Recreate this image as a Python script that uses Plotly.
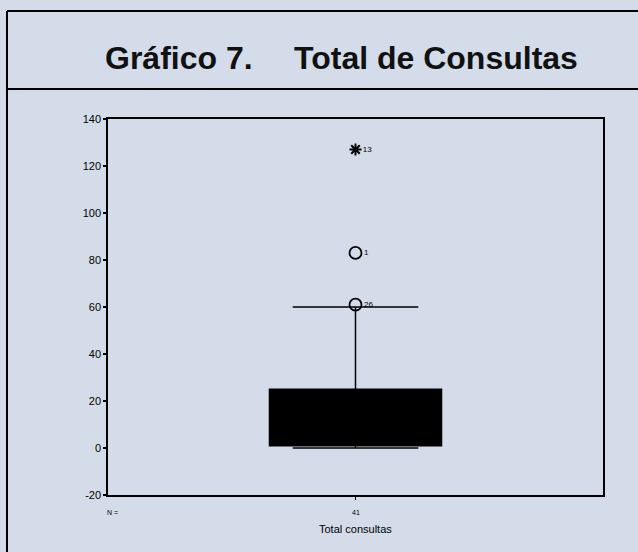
import plotly.graph_objects as go

# Data
category = ["Total consultas"]
n_cases = [41]
q1 = [1]
median = [8]
q3 = [25]
lower_fence = [0]
upper_fence = [60]
outlier_values = [61, 83]
outlier_labels = ["26", "1"]
extreme_values = [127]
extreme_labels = ["13"]
y_ticks = [-20, 0, 20, 40, 60, 80, 100, 120, 140]
y_tick_text = ["-20", "0", "20", "40", "60", "80", "100", "120", "140"]

W, H = 638, 552
L, R, T, B = 108, 35, 119, 57
pw, ph = W - L - R, H - T - B

def px(x):
    return (x - L) / pw

def py(y):
    return (H - B - y) / ph

fig = go.Figure()
fig.add_trace(go.Box(
    x=[0], q1=q1, median=median, q3=q3,
    lowerfence=lower_fence, upperfence=upper_fence,
    width=0.695, whiskerwidth=0.73,
    fillcolor="black", line=dict(color="black", width=1.5),
    boxpoints=False, showlegend=False, hoverinfo="skip",
))
fig.add_trace(go.Scatter(
    x=[0] * len(outlier_values), y=outlier_values, mode="markers+text",
    marker=dict(symbol="circle-open", size=12, color="black", line=dict(width=1.8)),
    text=outlier_labels, textposition="middle right",
    textfont=dict(size=8, color="black", family="Liberation Sans"),
    showlegend=False,
))
fig.add_trace(go.Scatter(
    x=[0] * len(extreme_values), y=extreme_values, mode="markers+text",
    marker=dict(symbol="asterisk-open", size=10, color="black", line=dict(width=2, color="black")),
    text=extreme_labels, textposition="middle right",
    textfont=dict(size=8, color="black", family="Liberation Sans"),
    showlegend=False,
))

shapes = [
    dict(type="line", xref="paper", yref="paper", x0=px(7), x1=px(7), y0=py(11), y1=py(560),
         line=dict(color="black", width=2)),
    dict(type="line", xref="paper", yref="paper", x0=px(7), x1=px(645), y0=py(11), y1=py(11),
         line=dict(color="black", width=2)),
    dict(type="line", xref="paper", yref="paper", x0=px(7), x1=px(645), y0=py(89), y1=py(89),
         line=dict(color="black", width=2)),
]

title_font = dict(size=32, family="Liberation Sans", color="#111")
annotations = [
    dict(text="<b>Gráfico 7.</b>", xref="paper", yref="paper",
         x=px(103), y=py(58), showarrow=False, xanchor="left", yanchor="middle",
         font=title_font),
    dict(text="<b>Total de Consultas</b>", xref="paper", yref="paper",
         x=px(292), y=py(58), showarrow=False, xanchor="left", yanchor="middle",
         font=title_font),
    dict(text="N =", xref="paper", yref="paper", x=px(112), y=py(512), showarrow=False,
         xanchor="center", yanchor="middle", font=dict(size=7, family="Liberation Sans", color="black")),
    dict(text=str(n_cases[0]), xref="x", yref="paper", x=0, y=py(512), showarrow=False,
         xanchor="center", yanchor="middle", font=dict(size=7, family="Liberation Sans", color="black")),
    dict(text=category[0], xref="x", yref="paper", x=0, y=py(529), showarrow=False,
         xanchor="center", yanchor="middle", font=dict(size=11, family="Liberation Sans", color="black")),
]

fig.update_layout(
    width=W, height=H,
    margin=dict(l=L, r=R, t=T, b=B, autoexpand=False),
    paper_bgcolor="#d3dce8", plot_bgcolor="#d3dce8",
    shapes=shapes, annotations=annotations,
    xaxis=dict(range=[-1, 1], showticklabels=False, showgrid=False, zeroline=False,
               showline=True, linecolor="black", linewidth=1.5, mirror=True,
               tickvals=[0], ticks="outside", ticklen=3, tickcolor="black"),
    yaxis=dict(range=[-20, 140], tickvals=y_ticks, ticktext=y_tick_text,
               showgrid=False, zeroline=False,
               showline=True, linecolor="black", linewidth=1.5, mirror=True,
               ticks="outside", ticklen=3, tickwidth=2, tickcolor="black",
               tickfont=dict(size=11, family="Liberation Sans", color="black")),
)

fig.write_html("out.html", config={"displayModeBar": False},
               post_script="document.body.style.margin='0';document.body.style.background='#d3dce8';")
